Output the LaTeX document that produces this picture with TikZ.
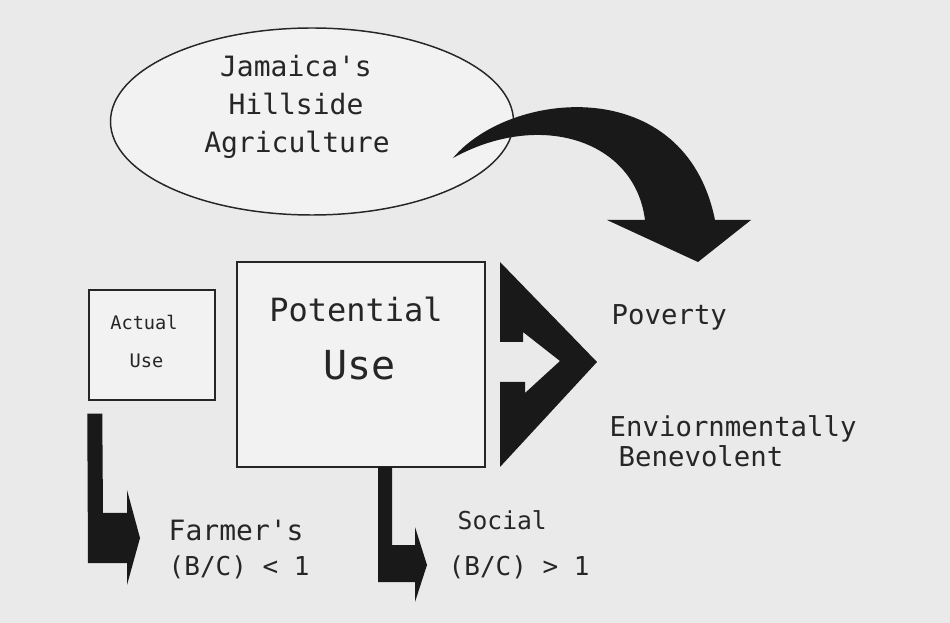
\documentclass[tikz,border=0pt]{standalone}
\usepackage{fontspec}
\usetikzlibrary{shapes.geometric}
\newfontfamily\bitfont{DejaVu Sans Mono}
\definecolor{paper}{RGB}{234,234,234}
\definecolor{inside}{RGB}{242,242,242}
\definecolor{ink}{RGB}{38,38,38}
\tikzset{every picture/.style={line width=1.1pt}}

\begin{document}
\begin{tikzpicture}[x=0.75pt,y=0.75pt,yscale=-1,xscale=1,
    shapebox/.style={draw=ink, fill=inside, inner sep=0pt},
    txt/.style={text=ink, inner sep=0.75pt},
    blockarrow/.style={fill=black!90, draw=none}]
    \fill[paper] (0,0) rectangle (950,623);
    \useasboundingbox (0,0) rectangle (950,623);

    % Shapes
    \node [shapebox, ellipse, minimum width=302.25pt, minimum height=140.25pt] (hill) at (312,121.5) {};
    \node [shapebox, rectangle, minimum width=94.5pt, minimum height=82.5pt] (actual) at (152,345) {};
    \node [shapebox, rectangle, minimum width=186pt, minimum height=153.75pt] (potential) at (361,364.5) {};

    % Text Node
    \node [txt, anchor=base, font=\bitfont\fontsize{21}{21}\selectfont] (hill1) at (296,77) {Jamaica's};
    \node [txt, anchor=base, font=\bitfont\fontsize{21}{21}\selectfont] (hill2) at (296,115) {Hillside};
    \node [txt, anchor=base, font=\bitfont\fontsize{21}{21}\selectfont] (hill3) at (297,153) {Agriculture};
    % Text Node
    \node [txt, anchor=base, font=\bitfont\fontsize{14}{14}\selectfont] (actual1) at (144,330) {Actual};
    \node [txt, anchor=base, font=\bitfont\fontsize{14}{14}\selectfont] (actual2) at (146.5,368) {Use};
    % Text Node
    \node [txt, anchor=base, font=\bitfont\fontsize{24}{24}\selectfont] (potential1) at (356,322) {Potential};
    \node [txt, anchor=base, font=\bitfont\fontsize{30}{30}\selectfont] (potential2) at (359.5,380) {Use};
    % Text Node
    \node [txt, anchor=base west, font=\bitfont\fontsize{20.5}{20.5}\selectfont] (poverty) at (610,325) {Poverty};
    \node [txt, anchor=base west, font=\bitfont\fontsize{20.5}{20.5}\selectfont] (enviro1) at (608,437) {Enviornmentally};
    \node [txt, anchor=base west, font=\bitfont\fontsize{20.5}{20.5}\selectfont] (enviro2) at (617,467) {Benevolent};
    % Text Node
    \node [txt, anchor=base west, font=\bitfont\fontsize{21}{21}\selectfont] (farmer1) at (167,540) {Farmer's};
    \node [txt, anchor=base west, font=\bitfont\fontsize{19.5}{19.5}\selectfont] (farmer2) at (167,575) {(B/C) < 1};
    \node [txt, anchor=base west, font=\bitfont\fontsize{18.5}{18.5}\selectfont] (social1) at (456,529) {Social};
    \node [txt, anchor=base west, font=\bitfont\fontsize{19.5}{19.5}\selectfont] (social2) at (447,575) {(B/C) > 1};

    % Curved block arrow from the ellipse
    \coordinate (tail) at (453,158);
    \coordinate (tip) at (698,262);
    \fill [blockarrow] (tail) .. controls (510,90) and (685,72) .. (715,220)
        -- (751,220) -- (tip) -- (607,220) -- (645,220)
        .. controls (635,140) and (540,110) .. (tail) -- cycle;

    % Split arrow beside Potential Use
    \fill [blockarrow] (500,262) -- (597,362) -- (500,467) -- (500,382) -- (525,382)
        -- (525,393) -- (560,361) -- (523,332) -- (523,342) -- (500,342) -- cycle;

    % L arrows
    \fill [blockarrow] (actual.south west) ++(-1,13) -- ++(15,0) -- (103,513) -- (127,513)
        -- (127,490) -- (140,538) -- (127,585) -- (127,563) -- (88,563) -- cycle;
    \fill [blockarrow] (378,467) -- (392,467) -- (392,545) -- (415,545) -- (415,527)
        -- (427,565) -- (415,602) -- (415,582) -- (378,582) -- cycle;
\end{tikzpicture}
\end{document}
